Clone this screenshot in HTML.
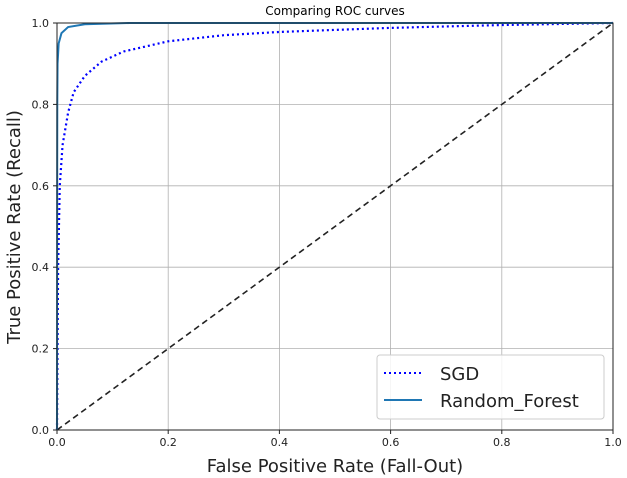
<!DOCTYPE html>
<html><head><meta charset="utf-8"><style>
body{margin:0;background:#fff;}
svg{display:block;font-family:"DejaVu Sans","Liberation Sans",sans-serif;}
</style></head><body>
<svg id="chart" width="627" height="478">
<text x="335" y="15" font-size="12" text-anchor="middle">Comparing ROC curves</text>
<g id="grid"></g>
<g id="series"></g>
<rect x="57" y="23" width="556" height="407" fill="none" stroke="#222" stroke-width="1"/>
<g id="ticks" font-size="11" fill="#222"></g>
<text x="335" y="472" font-size="18" text-anchor="middle" fill="#222">False Positive Rate (Fall-Out)</text>
<text transform="translate(20,227) rotate(-90)" font-size="18" text-anchor="middle" fill="#222">True Positive Rate (Recall)</text>
<g>
<rect x="377" y="355" width="227" height="64" rx="3" fill="#fff" fill-opacity="0.85" stroke="#ccc"/>
<line x1="384" y1="373" x2="422" y2="373" stroke="#0000ff" stroke-width="2" stroke-dasharray="2,3"/>
<text x="440" y="380" font-size="18" fill="#222">SGD</text>
<line x1="384" y1="400" x2="422" y2="400" stroke="#1f77b4" stroke-width="2"/>
<text x="440" y="407" font-size="18" fill="#222">Random_Forest</text>
</g>
</svg>
<script>
const ticks=[0,0.2,0.4,0.6,0.8,1.0];
const tickLabels=["0.0","0.2","0.4","0.6","0.8","1.0"];
const sgdFpr=[0,0.001,0.002,0.005,0.01,0.02,0.03,0.05,0.08,0.12,0.2,0.3,0.4,0.6,0.8,1];
const sgdTpr=[0,0.2,0.4,0.6,0.7,0.78,0.83,0.87,0.905,0.93,0.955,0.97,0.978,0.988,0.995,1];
const rfFpr=[0,0.0003,0.0005,0.001,0.003,0.008,0.02,0.05,0.13,1];
const rfTpr=[0,0.6,0.8,0.9,0.95,0.975,0.99,0.997,1,1];
const diagX=[0,1];
const diagY=[0,1];
const NS="http://www.w3.org/2000/svg";
const X=v=>57+v*556, Y=v=>430-v*407;
const grid=document.getElementById('grid'), tg=document.getElementById('ticks'), sg=document.getElementById('series');
ticks.forEach((t,i)=>{
  const gx=document.createElementNS(NS,'line');
  gx.setAttribute('x1',X(t));gx.setAttribute('x2',X(t));gx.setAttribute('y1',23);gx.setAttribute('y2',430);
  gx.setAttribute('stroke','#b0b0b0');gx.setAttribute('stroke-width','0.8');
  
  
  grid.appendChild(gx);
  const gy=document.createElementNS(NS,'line');
  gy.setAttribute('y1',Y(t));gy.setAttribute('y2',Y(t));gy.setAttribute('x1',57);gy.setAttribute('x2',613);
  gy.setAttribute('stroke','#b0b0b0');gy.setAttribute('stroke-width','0.8');
  
  
  grid.appendChild(gy);
  const tx=document.createElementNS(NS,'text');
  tx.setAttribute('x',X(t));tx.setAttribute('y',446);tx.setAttribute('text-anchor','middle');tx.textContent=tickLabels[i];
  
  
  tg.appendChild(tx);
  const ty=document.createElementNS(NS,'text');
  ty.setAttribute('x',49);ty.setAttribute('y',Y(t)+4);ty.setAttribute('text-anchor','end');ty.textContent=tickLabels[i];
  
  
  tg.appendChild(ty);
  const mx=document.createElementNS(NS,'line');
  mx.setAttribute('x1',X(t));mx.setAttribute('x2',X(t));mx.setAttribute('y1',430);mx.setAttribute('y2',434);mx.setAttribute('stroke','#222');
  
  
  tg.appendChild(mx);
  const my=document.createElementNS(NS,'line');
  my.setAttribute('y1',Y(t));my.setAttribute('y2',Y(t));my.setAttribute('x1',53);my.setAttribute('x2',57);my.setAttribute('stroke','#222');
  
  
  tg.appendChild(my);
});
function path(xs,ys,color,dash,w){
  const p=document.createElementNS(NS,'path');
  p.setAttribute('d',xs.map((x,i)=>(i?'L':'M')+X(x).toFixed(2)+','+Y(ys[i]).toFixed(2)).join(''));
  p.setAttribute('fill','none');p.setAttribute('stroke',color);p.setAttribute('stroke-width',w);
  if(dash)p.setAttribute('stroke-dasharray',dash);
  sg.appendChild(p);return p;
}
let d=path(diagX,diagY,'#222','6,4',1.6);


let s=path(sgdFpr,sgdTpr,'#0000ff','2,3',2.2);


let r=path(rfFpr,rfTpr,'#1f77b4',null,2);


</script>
</body></html>
